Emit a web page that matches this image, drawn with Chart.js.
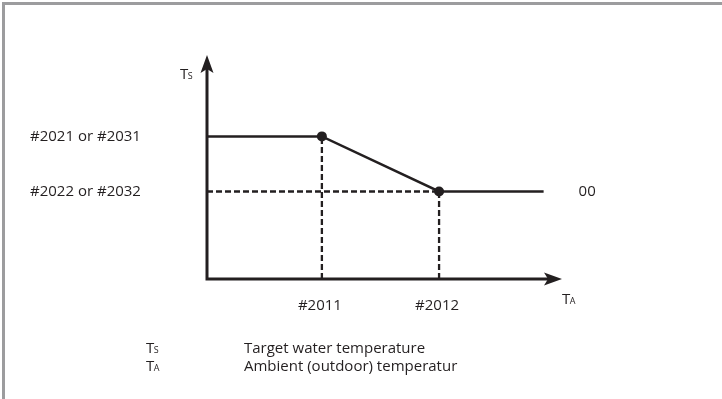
<!DOCTYPE html>
<html>
<head>
<meta charset="utf-8">
<script src="https://cdn.jsdelivr.net/npm/chart.js@4.4.1/dist/chart.umd.min.js"></script>
<style>
  html, body { margin: 0; padding: 0; background: #fff; }
  #wrap { position: relative; width: 722px; height: 399px; }
  #frame { position: absolute; left: 2px; top: 2px; right: 0; bottom: 0;
           border-top: 3px solid #9c9c9e; border-left: 3px solid #9c9c9e; pointer-events: none; }
  canvas { position: absolute; left: 0; top: 0; }
</style>
</head>
<body>
<div id="wrap">
  <canvas id="kurve" width="722" height="399"></canvas>
  <div id="frame"></div>
</div>
<script>
// Heizkurve: Sollwert Wasser (Ts) über Außentemperatur (TA)
const achsenMax = { x: 3.09, y: 2.56 };

// Knickpunkte auf der TA-Achse
const knickX = [1, 2.02];
const knickLabels = ['#2011', '#2012'];

// Sollwert-Niveaus auf der Ts-Achse (oben, unten)
const niveauY = [1.63, 1];
const niveauLabels = ['#2021 or #2031', '#2022 or #2032'];

// Kurvenverlauf
const kurveX = [0, 1, 2.02, 2.93];
const kurveY = [1.63, 1.63, 1, 1];
const endLabel = '00';

// Legende
const legendeSymbol = ['T', 'T'];
const legendeIndex = ['S', 'A'];
const legendeText = ['Target water temperature', 'Ambient (outdoor) temperatur'];

const schwarz = '#231f20';
const schrift = "'Open Sans', sans-serif";
const groesse = 15;

function punkte(xs, ys) {
  return xs.map((x, i) => ({ x: x, y: ys[i] }));
}

// gestrichelte Hilfslinien
const hilfslinien = [
  punkte([knickX[0], knickX[0]], [0, niveauY[0]]),
  punkte([knickX[1], knickX[1]], [0, niveauY[1]]),
  punkte([0, knickX[1]], [niveauY[1], niveauY[1]])
];

const datasets = hilfslinien.map(d => ({
  data: d,
  showLine: true,
  borderColor: schwarz,
  borderWidth: 2.3,
  borderDash: [6, 3],
  pointRadius: 0
}));

datasets.push({
  data: punkte(kurveX, kurveY),
  showLine: true,
  borderColor: schwarz,
  borderWidth: 2.5,
  pointBackgroundColor: schwarz,
  pointBorderWidth: 0,
  // nur die Knickpunkte bekommen einen Punkt
  pointRadius: kurveX.map(x => knickX.includes(x) ? 5 : 0)
});

function zeichneIndex(ctx, x, y, haupt, index, g) {
  ctx.font = g + 'px ' + schrift;
  ctx.fillText(haupt, x, y);
  const w = ctx.measureText(haupt).width;
  ctx.font = Math.round(g * 0.62) + 'px ' + schrift;
  ctx.fillText(index, x + w - 0.5, y);
}

// Achsen mit Pfeilen und alle Beschriftungen
const diagrammPlugin = {
  id: 'diagramm',
  beforeDatasetsDraw(chart) {
    const ctx = chart.ctx;
    const xs = chart.scales.x, ys = chart.scales.y;
    const x0 = xs.getPixelForValue(0), y0 = ys.getPixelForValue(0);
    const xEnd = xs.getPixelForValue(achsenMax.x), yEnd = ys.getPixelForValue(achsenMax.y);
    ctx.save();
    ctx.strokeStyle = schwarz;
    ctx.fillStyle = schwarz;
    ctx.lineWidth = 3;
    ctx.beginPath();
    ctx.moveTo(x0, yEnd + 10);
    ctx.lineTo(x0, y0);
    ctx.lineTo(xEnd - 10, y0);
    ctx.stroke();
    // Pfeilspitze Ts
    ctx.beginPath();
    ctx.moveTo(x0, yEnd);
    ctx.lineTo(x0 - 6.5, yEnd + 18);
    ctx.lineTo(x0, yEnd + 14);
    ctx.lineTo(x0 + 6.5, yEnd + 18);
    ctx.closePath();
    ctx.fill();
    // Pfeilspitze TA
    ctx.beginPath();
    ctx.moveTo(xEnd, y0);
    ctx.lineTo(xEnd - 18, y0 - 6.5);
    ctx.lineTo(xEnd - 14, y0);
    ctx.lineTo(xEnd - 18, y0 + 6.5);
    ctx.closePath();
    ctx.fill();
    ctx.restore();
  },
  afterDatasetsDraw(chart) {
    const ctx = chart.ctx;
    const xs = chart.scales.x, ys = chart.scales.y;
    const x0 = xs.getPixelForValue(0), y0 = ys.getPixelForValue(0);
    const xEnd = xs.getPixelForValue(achsenMax.x), yEnd = ys.getPixelForValue(achsenMax.y);
    ctx.save();
    ctx.fillStyle = schwarz;
    ctx.textBaseline = 'middle';
    ctx.font = groesse + 'px ' + schrift;

    ctx.textAlign = 'left';
    niveauLabels.forEach((t, i) => ctx.fillText(t, 30, ys.getPixelForValue(niveauY[i])));
    ctx.fillText(endLabel, xs.getPixelForValue(kurveX[kurveX.length - 1]) + 35,
      ys.getPixelForValue(kurveY[kurveY.length - 1]));

    ctx.textAlign = 'center';
    knickLabels.forEach((t, i) => ctx.fillText(t, xs.getPixelForValue(knickX[i]) - 2, y0 + 27));

    ctx.textAlign = 'left';
    ctx.textBaseline = 'alphabetic';
    zeichneIndex(ctx, x0 - 27, yEnd + 24, 'T', 'S', groesse);
    zeichneIndex(ctx, xEnd, y0 + 25, 'T', 'A', groesse);

    // Legende unter dem Diagramm
    legendeSymbol.forEach((s, i) => {
      const y = y0 + 74 + i * 18;
      zeichneIndex(ctx, 146, y, s, legendeIndex[i], groesse);
      ctx.font = groesse + 'px ' + schrift;
      ctx.fillText(legendeText[i], 244, y);
    });
    ctx.restore();
  }
};

new Chart(document.getElementById('kurve'), {
  type: 'scatter',
  data: { datasets: datasets },
  options: {
    responsive: false,
    animation: false,
    layout: { padding: { left: 207, right: 160, top: 55, bottom: 120 } },
    scales: {
      x: { type: 'linear', min: 0, max: achsenMax.x, display: false },
      y: { type: 'linear', min: 0, max: achsenMax.y, display: false }
    },
    plugins: {
      legend: { display: false },
      tooltip: { enabled: false }
    }
  },
  plugins: [diagrammPlugin]
});
</script>
</body>
</html>
